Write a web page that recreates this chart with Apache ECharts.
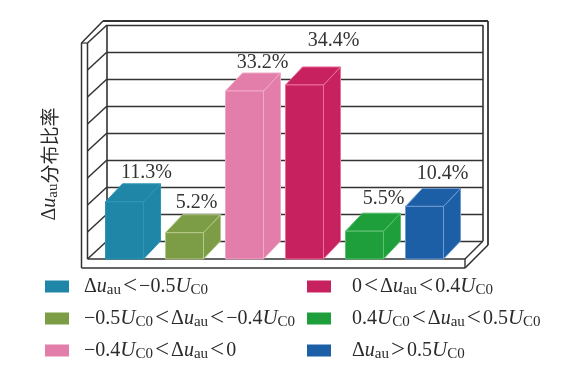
<!DOCTYPE html>
<html><head><meta charset="utf-8">
<style>html,body{margin:0;padding:0;background:#fff}#c{width:565px;height:370px}</style>
<script src="https://cdn.jsdelivr.net/npm/echarts@6/dist/echarts.min.js"></script>
</head><body><div id="c"></div>
<script>
const categories = ['lt-0.5','-0.5to-0.4','-0.4to0','0to0.4','0.4to0.5','gt0.5'];
const values = [11.3, 5.2, 33.2, 34.4, 5.5, 10.4];
const legendNames = ['Δuau<−0.5UC0','−0.5UC0<Δuau<−0.4UC0','−0.4UC0<Δuau<0','0<Δuau<0.4UC0','0.4UC0<Δuau<0.5UC0','Δuau>0.5UC0'];
const legendRich = [
 '{n|Δ}{i|u}{s|au}{l|<}{n|−0.5}{U|U}{s|C0}',
 '{n|−0.5}{U|U}{s|C0}{l|<}{n|Δ}{i|u}{s|au}{l|<}{n|−0.4}{U|U}{s|C0}',
 '{n|−0.4}{U|U}{s|C0}{l|<}{n|Δ}{i|u}{s|au}{l|<}{n|0}',
 '{n|0}{l|<}{n|Δ}{i|u}{s|au}{l|<}{n|0.4}{U|U}{s|C0}',
 '{n|0.4}{U|U}{s|C0}{l|<}{n|Δ}{i|u}{s|au}{l|<}{n|0.5}{U|U}{s|C0}',
 '{n|Δ}{i|u}{s|au}{l|>}{n|0.5}{U|U}{s|C0}'
];
const faceColors = ['#1f86a8','#7d9c46','#e27ea9','#c8215f','#1f9f3c','#1c5fa6'];
const edgeColors = ['#2a97b8','#b5c98a','#f0a9c6','#e8709a','#5cc070','#6f9bd0'];
const labelShiftX = [22, 12, 18, 29, 19, 18];
const labelShiftY = [-11, -12, -10, -26, -14, -15];
const wallTicks = [0,1,2,3,4,5,6,7,8];
const SERIF = '"Liberation Serif","Noto Sans CJK SC",serif';
const INK = '#2b2b2b';
const DX = 17, DY = 18, BARW = 38;

const chart = echarts.init(document.getElementById('c'));

function seg(p, q, w, c){
  return {type:'line', shape:{x1:p[0],y1:p[1],x2:q[0],y2:q[1]}, style:{stroke:c||'#333',lineWidth:w||1.4}};
}
function frameItem(params, api){
  const tl = api.coord([0,8]), bl = api.coord([0,0]), tr = api.coord([1,8]), br = api.coord([1,0]);
  const ch = [];
  wallTicks.forEach(t=>{
    const p = api.coord([0,t]);
    ch.push(seg(p,[p[0]-19.5,p[1]+18],1.5));
  });
  const fx=bl[0]-19.5, fy=bl[1]+18;
  ch.push(seg([fx,tl[1]+18],[fx,fy],1.5));
  ch.push(seg([fx-6,tl[1]+18],[fx-6,fy+9],1.5));
  ch.push(seg([fx-6,tl[1]+18],[fx,tl[1]+18],1.2));
  ch.push(seg([fx-6,tl[1]+18],[tl[0]-4,tl[1]-4],1.5));
  ch.push(seg([tl[0]-4,tl[1]-4],[tr[0]+5,tr[1]-4],2));
  ch.push(seg(tl,bl,1.6));
  ch.push(seg(tr,br,1.6));
  ch.push(seg([tr[0]+5,tr[1]-4],[tr[0]+5,br[1]+4],1.8));
  ch.push(seg([fx-6,fy+9],[br[0]-18,fy+9],1.6));
  ch.push(seg([fx,fy],[br[0]-18,fy],1.5));
  ch.push(seg([br[0]-18,fy],[br[0]-18,fy+9],1.4));
  ch.push(seg([br[0]-18,fy],br,1.4));
  ch.push(seg([br[0]-18,fy+9],[tr[0]+5,br[1]+4],1.6));
  return {type:'group',children:ch};
}
function barItem(i){
  return function(params, api){
    const c = api.coord([api.value(0), api.value(1)]);
    const b = api.coord([api.value(0), 0]);
    const x0 = c[0]-BARW/2, x1 = c[0]+BARW/2, yt = c[1], yb = b[1];
    const fc = faceColors[i], ec = edgeColors[i];
    const fill = {fill:fc, stroke:ec, lineWidth:1};
    return {type:'group',children:[
      {type:'polygon',shape:{points:[[x1,yt],[x1+DX,yt-DY],[x1+DX,yb-DY],[x1,yb]]},style:fill},
      {type:'polygon',shape:{points:[[x0,yt],[x0+DX,yt-DY],[x1+DX,yt-DY],[x1,yt]]},style:fill},
      {type:'rect',shape:{x:x0,y:yt,width:BARW,height:yb-yt},style:fill},
      {type:'text',style:{text:api.value(1).toFixed(1)+'%',x:c[0]+labelShiftX[i],y:yt-DY+labelShiftY[i],
        align:'center',verticalAlign:'middle',fontFamily:SERIF,fontSize:20,fill:'#333'}}
    ]};
  };
}
const barSeries = values.map((v,i)=>({
  type:'custom', name:legendNames[i], xAxisIndex:1, yAxisIndex:1, z:5, silent:true,
  itemStyle:{color:faceColors[i]}, clip:false,
  encode:{x:0,y:1},
  data:[[categories[i],v]], renderItem:barItem(i)
}));
const base = {fontFamily:SERIF,color:INK,fill:INK};
const richStyles = {
  n:Object.assign({},base,{fontSize:20,lineHeight:22}),
  l:Object.assign({},base,{fontSize:25,lineHeight:22,padding:[0,2,0,2]}),
  i:Object.assign({},base,{fontSize:20,fontStyle:'italic',lineHeight:22}),
  U:Object.assign({},base,{fontSize:21,fontStyle:'italic',lineHeight:22}),
  s:Object.assign({},base,{fontSize:15,lineHeight:22,verticalAlign:'bottom',padding:[7,0,0,0]})
};
function legendCfg(names,left,gap){
  return {orient:'vertical',left:left,top:274,padding:0,itemWidth:24,itemHeight:12,itemGap:7,
    data:names.map(n=>({name:n,icon:'rect'})),selectedMode:false,
    formatter:n=>legendRich[legendNames.indexOf(n)],
    textStyle:{rich:richStyles,padding:[0,0,0,gap]}};
}
chart.setOption({
  animation:false, backgroundColor:'#fff',
  grid:[{left:107,width:376,top:25,height:216},{left:94.5,width:360,top:56.6,height:202.4}],
  xAxis:[
    {gridIndex:0,type:'value',min:0,max:1,show:false},
    {gridIndex:1,type:'category',data:categories,show:false}
  ],
  yAxis:[
    {gridIndex:0,type:'value',min:0,max:8,interval:1,axisLine:{show:false},axisTick:{show:false},axisLabel:{show:false},
      splitLine:{show:true,lineStyle:{color:'#333',width:1.4}}},
    {gridIndex:1,type:'value',min:0,max:40,interval:5,show:false,splitLine:{show:false}}
  ],
  legend:[legendCfg(legendNames.slice(0,3),45,10),legendCfg(legendNames.slice(3),307,16)],
  graphic:[{type:'text',x:50,y:164,rotation:Math.PI/2,style:{
    text:'{n|Δ}{i|u}{s|au}{c|分布比率}',rich:Object.assign({},richStyles,{
      c:{fontFamily:'"Noto Sans CJK SC",sans-serif',fontSize:19,fill:INK,lineHeight:22}
    }),align:'center',verticalAlign:'middle'}}],
  series:[{type:'custom',xAxisIndex:0,yAxisIndex:0,z:2,silent:true,clip:false,data:[[0,0]],renderItem:frameItem}].concat(barSeries)
});
</script></body></html>
